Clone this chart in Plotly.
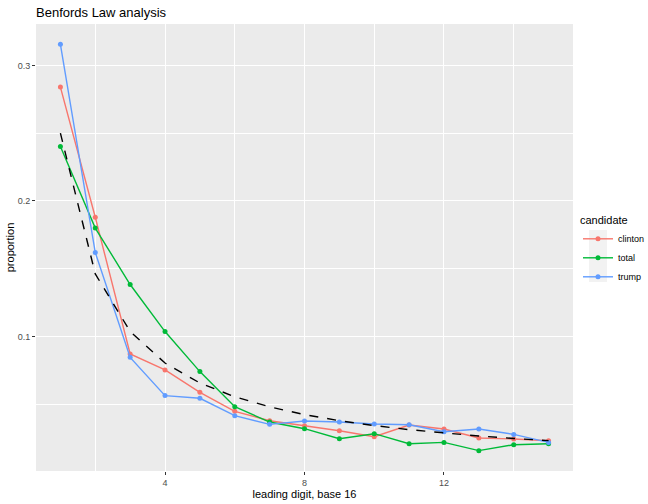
import plotly.graph_objects as go

digits = list(range(1, 16))
clinton = [0.284, 0.188, 0.0872, 0.0754, 0.0589, 0.0449, 0.0380, 0.0343, 0.0306, 0.0262,
           0.0348, 0.0319, 0.0252, 0.0245, 0.0232]
total = [0.2402, 0.180, 0.1384, 0.1037, 0.0742, 0.0483, 0.0370, 0.0321, 0.0247, 0.0284,
         0.0210, 0.0220, 0.0159, 0.0203, 0.0210]
trump = [0.3155, 0.162, 0.0847, 0.0565, 0.0545, 0.0417, 0.0353, 0.0378, 0.0370, 0.0356,
         0.0350, 0.0299, 0.0319, 0.0279, 0.0220]
benford = [0.2500, 0.1462, 0.1038, 0.0805, 0.0658, 0.0556, 0.0482, 0.0425, 0.0380, 0.0344,
           0.0314, 0.0289, 0.0267, 0.0249, 0.0233]

series = [("clinton", clinton, "#F8766D"), ("total", total, "#00BA38"), ("trump", trump, "#619CFF")]

fig = go.Figure()
for name, vals, col in series:
    fig.add_trace(go.Scatter(x=digits, y=vals, mode="lines+markers", name=name,
                             line=dict(color=col, width=1.4),
                             marker=dict(color=col, size=5)))
fig.add_trace(go.Scatter(x=digits, y=benford, mode="lines", showlegend=False,
                         line=dict(color="black", width=1.4, dash="dash")))

# grey legend-key background (ggplot style), in paper coordinates outside the panel
fig.add_shape(type="rect", xref="paper", yref="paper", x0=1.0298, x1=1.0633,
              y0=0.4228, y1=0.5391, fillcolor="#F2F2F2", line=dict(width=0), layer="below")

fig.update_layout(
    width=648, height=504,
    margin=dict(l=36, r=75, t=24, b=33, autoexpand=False),
    paper_bgcolor="white", plot_bgcolor="#EBEBEB",
    font=dict(family="Liberation Sans, Arial, sans-serif", color="black"),
    title=dict(text="Benfords Law analysis", x=0, xref="paper", xanchor="left",
               y=1 - 12 / 504, yref="container", yanchor="middle",
               font=dict(size=13, color="black")),
    legend=dict(title=dict(text="candidate", font=dict(size=11)), font=dict(size=9),
                xref="container", x=578 / 648, xanchor="left",
                yref="container", y=1 - 210 / 504, yanchor="top",
                bgcolor="rgba(0,0,0,0)", itemwidth=30, tracegroupgap=0),
    showlegend=True,
)
fig.update_xaxes(range=[0.3, 15.7], tickvals=[4, 8, 12], ticks="outside", ticklen=3,
                 tickcolor="#333333", tickfont=dict(size=9, color="#4D4D4D"),
                 showgrid=True, gridcolor="white", gridwidth=1.1, zeroline=False,
                 showline=False, automargin=False,
                 minor=dict(tickvals=[2, 6, 10, 14], showgrid=True, gridcolor="white",
                            gridwidth=0.55, ticks=""),
                 title=dict(text="leading digit, base 16", font=dict(size=11), standoff=1))
fig.update_yaxes(range=[0.0009, 0.3305], tickvals=[0.1, 0.2, 0.3], ticks="outside", ticklen=3,
                 tickcolor="#333333", tickfont=dict(size=9, color="#4D4D4D"),
                 showgrid=True, gridcolor="white", gridwidth=1.1, zeroline=False,
                 showline=False, automargin=False,
                 minor=dict(tickvals=[0.05, 0.15, 0.25], showgrid=True, gridcolor="white",
                            gridwidth=0.55, ticks=""),
                 title=dict(text="proportion", font=dict(size=11), standoff=0))

fig.write_html("out.html")
